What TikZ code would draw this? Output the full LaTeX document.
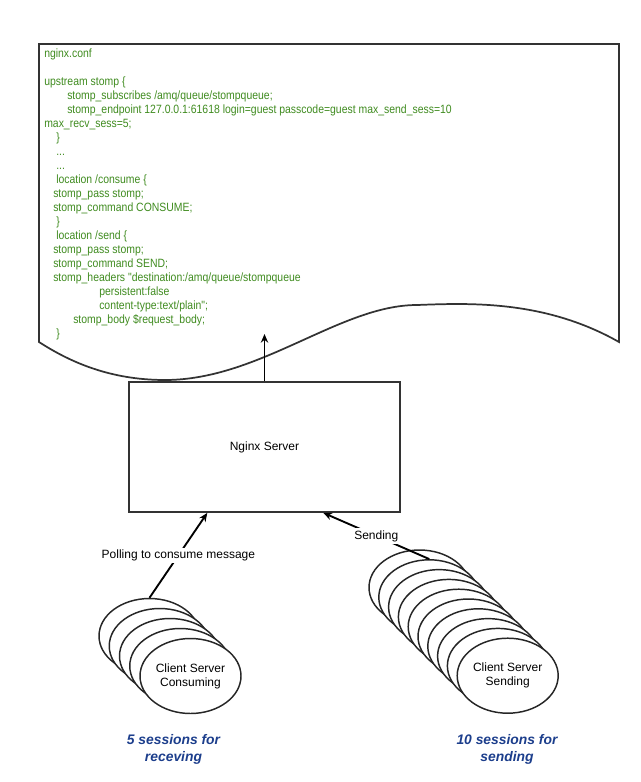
\documentclass[tikz,border=0pt]{standalone}
\usepackage{fontspec}
\setmainfont{Liberation Sans}
\newfontfamily\conffont[FakeStretch=0.87]{Liberation Sans}
\usetikzlibrary{arrows.meta, shapes.geometric, calc}
\definecolor{confgreen}{RGB}{64,140,32}
\definecolor{sessblue}{RGB}{28,62,140}
\definecolor{edgegray}{RGB}{51,51,51}

\begin{document}
\begin{tikzpicture}[
    x=0.75pt, y=-0.75pt,
    every node/.style={font=\fontsize{9}{10.5}\selectfont},
    code/.style={anchor=base west, inner sep=0pt, text=confgreen, font=\conffont\fontsize{9}{10.5}\selectfont},
    server/.style={draw=edgegray, line width=1.3pt, minimum width=203pt, minimum height=97.5pt},
    session/.style={ellipse, draw=black!85, line width=1.1pt, fill=white, minimum width=75.75pt,
        minimum height=56.25pt, inner sep=0pt, align=center},
    arrow/.style={-{Stealth[length=6.5pt, width=5.5pt]}, line width=1.4pt},
    tag/.style={fill=white, inner sep=1.5pt},
    sesslabel/.style={font=\fontsize{10.4}{12.75}\selectfont\bfseries\itshape, text=sessblue, align=center},
]
    \useasboundingbox (0,0) rectangle (640,782);

    % Config file sheet with wavy bottom edge
    \draw[edgegray, line width=1.3pt, fill=white] (39,44) -- (619,44) -- (619,342)
        .. controls (545,300) and (470,303) .. (417,305)
        .. controls (340,305) and (260,380) .. (165,380)
        .. controls (110,380) and (70,362) .. (39,342) -- cycle;

    % Config text, one node per line
    \node[code] (l1) at (44, 57.3) {nginx.conf};
    \foreach \x/\txt [count=\k from 3] in {
        44/{upstream stomp \{},
        67/{stomp\_subscribes /amq/queue/stompqueue;},
        67/{stomp\_endpoint 127.0.0.1:61618 login=guest passcode=guest max\_send\_sess=10},
        44/{max\_recv\_sess=5;},
        56/{\}}, 56/{...}, 56/{...},
        56/{location /consume \{},
        53/{stomp\_pass stomp;},
        53/{stomp\_command CONSUME;},
        56/{\}},
        56/{location /send \{},
        53/{stomp\_pass stomp;},
        53/{stomp\_command SEND;},
        53/{stomp\_headers "destination:/amq/queue/stompqueue},
        99/{persistent:false},
        99/{content-type:text/plain";},
        73/{stomp\_body \$request\_body;},
        56/{\}}}
    {
        \node[code] (l\k) at (\x, {57.3+14*(\k-1)}) {\txt};
    }

    % Nginx box
    \node[server] (nginx) at (264.5, 447) {Nginx Server};
    \coordinate (conftip) at (264.5, 334);
    \draw[arrow] (nginx.north) -- (conftip);

    % Consuming sessions, back to front
    \foreach \i in {1,...,4}
    {
        \node[session] (cons\i) at ({149.5+10.25*(\i-1)}, {636+10*(\i-1)}) {};
    }
    \node[session] (cons5) at (190.5, 676) {Client Server\\Consuming};

    % Sending sessions, back to front
    \foreach \i in {1,...,9}
    {
        \node[session] (send\i) at ({419.5+9.8*(\i-1)}, {587.5+9.8*(\i-1)}) {};
    }
    \node[session] (send10) at (507.7, 675.7) {Client Server\\Sending};

    % Connectors into the server
    \draw[arrow] (cons1.north) -- ($(nginx.south west)!0.29!(nginx.south east)$)
        node[tag, midway] {Polling to consume message};
    \draw[arrow] (send2.north) -- ($(nginx.south west)!0.716!(nginx.south east)$)
        node[tag, midway] {Sending};

    % Session counts
    \node[sesslabel] (recvnote) at (173.5, 749) {5 sessions for\\receving};
    \node[sesslabel] (sendnote) at (507, 749) {10 sessions for\\sending};
\end{tikzpicture}
\end{document}
